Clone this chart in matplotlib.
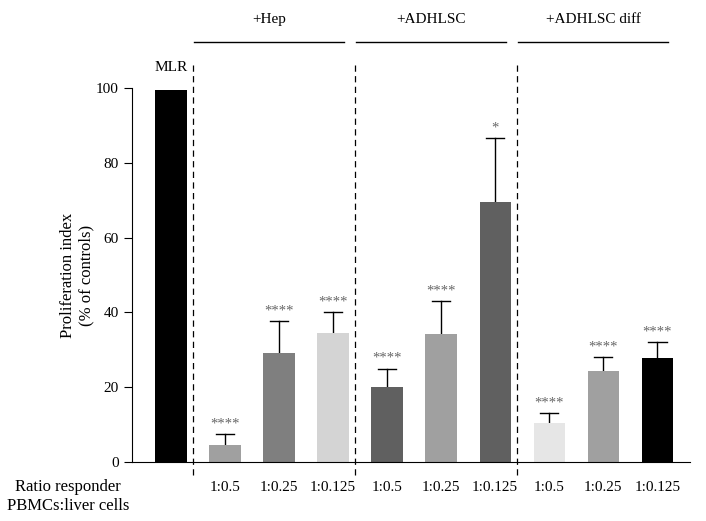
import numpy as np
import matplotlib.pyplot as plt

plt.rcParams['font.family'] = ['Liberation Serif', 'DejaVu Serif']

# data
tick_labels = ["", "1:0.5", "1:0.25", "1:0.125", "1:0.5", "1:0.25", "1:0.125",
               "1:0.5", "1:0.25", "1:0.125"]
values = [99.5, 4.5, 29.1, 34.5, 20.0, 34.2, 69.5, 10.5, 24.3, 27.8]
errors = [0, 3.0, 8.6, 5.5, 5.0, 8.8, 17.0, 2.5, 3.7, 4.2]
stars = ["", "****", "****", "****", "****", "****", "*", "****", "****", "****"]
colors = ["#000000", "#a0a0a0", "#7f7f7f", "#d4d4d4", "#606060", "#a0a0a0",
          "#606060", "#e6e6e6", "#a0a0a0", "#000000"]
groups = ["+Hep", "+ADHLSC", "+ADHLSC diff"]

fig = plt.figure(figsize=(7.06, 5.21), dpi=100)
ax = fig.add_axes([0.187, 0.1132, 0.79, 0.718])

x = np.arange(len(values))
ax.bar(x, values, width=0.58, color=colors, zorder=2)

# upper error bars only
for xi, v, e in zip(x, values, errors):
    if e > 0:
        ax.plot([xi, xi], [v, v + e], color="black", lw=1, zorder=1)
        ax.plot([xi - 0.17, xi + 0.17], [v + e, v + e], color="black", lw=1, zorder=1)

for xi, v, e, s in zip(x, values, errors, stars):
    if s:
        ax.text(xi, v + e + 1.0, s, ha="center", va="bottom", fontsize=10.5,
                color="#666666")

ax.text(0, 103.8, "MLR", ha="center", va="bottom", fontsize=11)

# dashed separators
for sx in [0.4, 3.4, 6.4]:
    ax.plot([sx, sx], [-3.5, 106.5], color="black", lw=0.9, ls=(0, (5, 3.5)),
            clip_on=False)

# group headers
for i, g in enumerate(groups):
    lo, hi = 3 * i + 0.42, 3 * i + 3.0
    mid = (lo + hi) / 2 + 0.1
    ax.plot([lo, hi + 0.2], [112.3, 112.3], color="black", lw=1, clip_on=False)
    ax.text(mid, 116.5, g, ha="center", va="bottom", fontsize=11)

ax.set_xlim(-0.72, 9.6)
ax.set_ylim(0, 100)
ax.set_yticks(range(0, 101, 20))
ax.set_xticks(x)
ax.set_xticklabels(tick_labels, fontsize=11)
ax.tick_params(axis="x", length=0, pad=14)
ax.tick_params(axis="y", labelsize=11, direction="out", length=6)
ax.spines["top"].set_visible(False)
ax.spines["right"].set_visible(False)
ax.set_ylabel("Proliferation index\n(% of controls)", fontsize=12, labelpad=1)

fig.text(0.096, 0.065, "Ratio responder", ha="center", va="center", fontsize=12)
fig.text(0.096, 0.029, "PBMCs:liver cells", ha="center", va="center", fontsize=12)

plt.savefig("out.png", dpi=100)
